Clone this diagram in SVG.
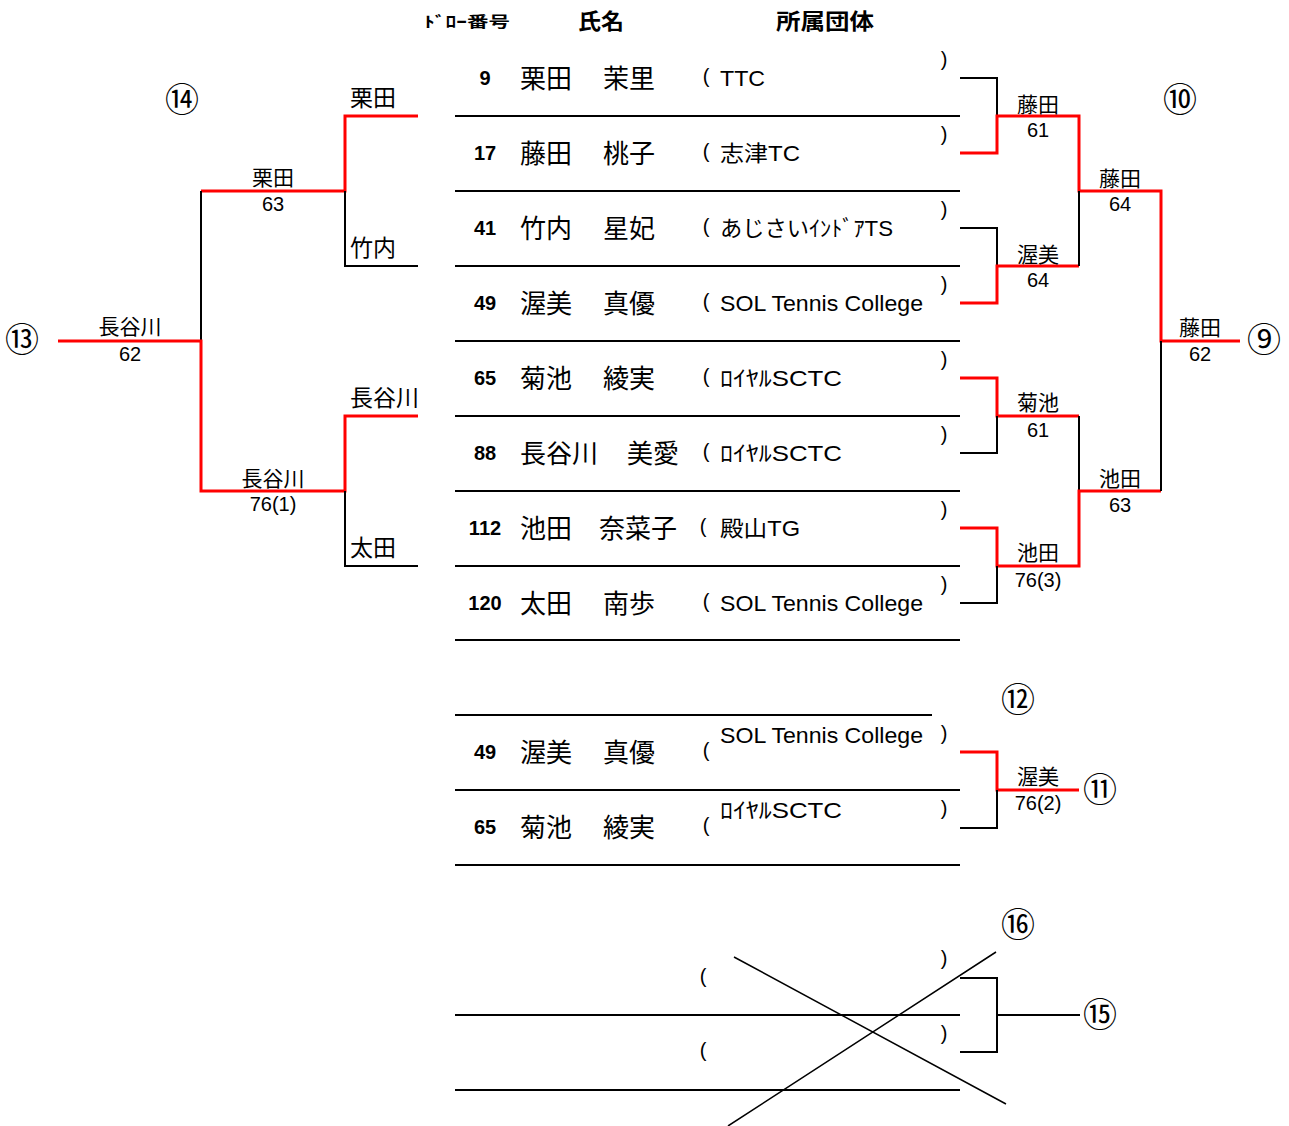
<svg xmlns="http://www.w3.org/2000/svg" width="1289" height="1126" viewBox="0 0 1289 1126">
<style>
text{font-family:"Liberation Sans","Noto Sans CJK JP",sans-serif;fill:#000}
.hd{font-family:"Noto Sans CJK JP",sans-serif;font-weight:bold}
.num{font-size:20px;font-weight:bold;text-anchor:middle}
.name{font-family:"Noto Sans CJK JP",sans-serif;font-size:26px}
.club{font-size:22px}
.par{font-size:20px;text-anchor:middle}
.lbl{font-family:"Noto Sans CJK JP",sans-serif;font-size:21px;text-anchor:middle}
.lbl2{font-family:"Noto Sans CJK JP",sans-serif;font-size:23px}
.sc{font-size:20px;text-anchor:middle}
.circ{font-family:"Noto Sans CJK JP",sans-serif;font-size:34px;text-anchor:middle}
.rl{stroke:#000;stroke-width:2;fill:none}
.bk{stroke:#000;stroke-width:2;fill:none}
.rd{stroke:#f00;stroke-width:3;fill:none}
</style>
<rect width="1289" height="1126" fill="#fff"/>

<g id="header">
<text class="hd" x="424" y="27" font-size="15" textLength="86" lengthAdjust="spacingAndGlyphs">ﾄﾞﾛｰ番号</text>
<text class="hd" x="578" y="29" font-size="22" textLength="46" lengthAdjust="spacingAndGlyphs">氏名</text>
<text class="hd" x="776" y="29" font-size="22" textLength="98" lengthAdjust="spacingAndGlyphs">所属団体</text>
</g>

<g id="rows">
<path class="rl" d="M455 116H960M455 191H960M455 266H960M455 341H960M455 416H960M455 491H960M455 566H960M455 640H960"/>
</g>

<g id="player-1">
<text class="num" x="485" y="85">9</text>
<text class="name" x="520" y="88">栗田</text><text class="name" x="603" y="88">茉里</text>
<text class="par" x="706" y="83">(</text>
<text class="club" x="720" y="86" textLength="45" lengthAdjust="spacingAndGlyphs">TTC</text>
<text class="par" x="944" y="66">)</text>
</g>
<g id="player-2">
<text class="num" x="485" y="160">17</text>
<text class="name" x="520" y="163">藤田</text><text class="name" x="603" y="163">桃子</text>
<text class="par" x="706" y="158">(</text>
<text class="club" x="720" y="161" textLength="80" lengthAdjust="spacingAndGlyphs">志津TC</text>
<text class="par" x="944" y="141">)</text>
</g>
<g id="player-3">
<text class="num" x="485" y="235">41</text>
<text class="name" x="520" y="238">竹内</text><text class="name" x="603" y="238">星妃</text>
<text class="par" x="706" y="233">(</text>
<text class="club" x="720" y="236" textLength="173" lengthAdjust="spacingAndGlyphs">あじさいｲﾝﾄﾞｱTS</text>
<text class="par" x="944" y="216">)</text>
</g>
<g id="player-4">
<text class="num" x="485" y="310">49</text>
<text class="name" x="520" y="313">渥美</text><text class="name" x="603" y="313">真優</text>
<text class="par" x="706" y="308">(</text>
<text class="club" x="720" y="311" textLength="203" lengthAdjust="spacingAndGlyphs">SOL Tennis College</text>
<text class="par" x="944" y="291">)</text>
</g>
<g id="player-5">
<text class="num" x="485" y="385">65</text>
<text class="name" x="520" y="388">菊池</text><text class="name" x="603" y="388">綾実</text>
<text class="par" x="706" y="383">(</text>
<text class="club" x="720" y="386" textLength="122" lengthAdjust="spacingAndGlyphs">ﾛｲﾔﾙSCTC</text>
<text class="par" x="944" y="366">)</text>
</g>
<g id="player-6">
<text class="num" x="485" y="460">88</text>
<text class="name" x="520" y="463">長谷川</text><text class="name" x="627" y="463">美愛</text>
<text class="par" x="706" y="458">(</text>
<text class="club" x="720" y="461" textLength="122" lengthAdjust="spacingAndGlyphs">ﾛｲﾔﾙSCTC</text>
<text class="par" x="944" y="441">)</text>
</g>
<g id="player-7">
<text class="num" x="485" y="535">112</text>
<text class="name" x="520" y="538">池田</text><text class="name" x="599" y="538">奈菜子</text>
<text class="par" x="703" y="533">(</text>
<text class="club" x="720" y="536" textLength="80" lengthAdjust="spacingAndGlyphs">殿山TG</text>
<text class="par" x="944" y="516">)</text>
</g>
<g id="player-8">
<text class="num" x="485" y="610">120</text>
<text class="name" x="520" y="613">太田</text><text class="name" x="603" y="613">南歩</text>
<text class="par" x="706" y="608">(</text>
<text class="club" x="720" y="611" textLength="203" lengthAdjust="spacingAndGlyphs">SOL Tennis College</text>
<text class="par" x="944" y="591">)</text>
</g>

<g id="connectors">
<path class="bk" d="M960 78H997V116"/>
<path class="rd" d="M960 153H997V116H1079V191H1161V341H1240"/>
<path class="bk" d="M960 228H997V266"/>
<path class="rd" d="M960 303H997V266H1079"/>
<path class="bk" d="M1079 266V191"/>
<path class="rd" d="M960 378H997V416H1079"/>
<path class="bk" d="M960 453H997V416"/>
<path class="bk" d="M1079 416V491"/>
<path class="rd" d="M960 528H997V566H1079V491H1161"/>
<path class="bk" d="M960 603H997V566"/>
<path class="bk" d="M1161 491V341"/>
<path class="rd" d="M418 116H345V191H201"/>
<path class="bk" d="M345 191V266H418"/>
<path class="bk" d="M201 191V341"/>
<path class="rd" d="M58 341H201V491H345V416H418"/>
<path class="bk" d="M345 491V566H418"/>
<path class="rd" d="M960 752H997V790H1079"/>
<path class="bk" d="M960 828H997V790"/>
<path class="bk" d="M960 978H997V1052H960M997 1015H1080"/>
</g>

<g id="right-labels">
<text class="lbl" x="1038" y="112">藤田</text><text class="sc" x="1038" y="137">61</text>
<text class="lbl" x="1038" y="262">渥美</text><text class="sc" x="1038" y="287">64</text>
<text class="lbl" x="1120" y="186">藤田</text><text class="sc" x="1120" y="211">64</text>
<text class="lbl" x="1200" y="335">藤田</text><text class="sc" x="1200" y="361">62</text>
<text class="lbl" x="1038" y="410">菊池</text><text class="sc" x="1038" y="437">61</text>
<text class="lbl" x="1038" y="560">池田</text><text class="sc" x="1038" y="587">76(3)</text>
<text class="lbl" x="1120" y="486">池田</text><text class="sc" x="1120" y="512">63</text>
</g>

<g id="left-labels">
<text class="lbl2" x="350" y="106">栗田</text>
<text class="lbl2" x="350" y="256">竹内</text>
<text class="lbl2" x="350" y="406">長谷川</text>
<text class="lbl2" x="350" y="556">太田</text>
<text class="lbl" x="273" y="185">栗田</text><text class="sc" x="273" y="211">63</text>
<text class="lbl" x="130" y="334">長谷川</text><text class="sc" x="130" y="361">62</text>
<text class="lbl" x="273" y="486">長谷川</text><text class="sc" x="273" y="511">76(1)</text>
</g>

<g id="match-numbers">
<text class="circ" x="182" y="112">⑭</text>
<text class="circ" x="22" y="352">⑬</text>
<text class="circ" x="1180" y="112">⑩</text>
<text class="circ" x="1264" y="352">⑨</text>
<text class="circ" x="1018" y="712">⑫</text>
<text class="circ" x="1100" y="802">⑪</text>
<text class="circ" x="1018" y="937">⑯</text>
<text class="circ" x="1100" y="1027">⑮</text>
</g>

<g id="consolation">
<path class="rl" d="M455 715H932M455 790H960M455 865H960"/>
<text class="num" x="485" y="759">49</text>
<text class="name" x="520" y="762">渥美</text><text class="name" x="603" y="762">真優</text>
<text class="par" x="706" y="757">(</text>
<text class="club" x="720" y="743" textLength="203" lengthAdjust="spacingAndGlyphs">SOL Tennis College</text>
<text class="par" x="944" y="740">)</text>
<text class="num" x="485" y="834">65</text>
<text class="name" x="520" y="837">菊池</text><text class="name" x="603" y="837">綾実</text>
<text class="par" x="706" y="832">(</text>
<text class="club" x="720" y="818" textLength="122" lengthAdjust="spacingAndGlyphs">ﾛｲﾔﾙSCTC</text>
<text class="par" x="944" y="815">)</text>
<text class="lbl" x="1038" y="784">渥美</text><text class="sc" x="1038" y="810">76(2)</text>
</g>

<g id="cancelled">
<path class="rl" d="M455 1015H960M455 1090H960"/>
<text class="par" x="703" y="983">(</text>
<text class="par" x="703" y="1057">(</text>
<text class="par" x="944" y="965">)</text>
<text class="par" x="944" y="1040">)</text>
<path stroke="#000" stroke-width="1.5" fill="none" d="M734 957L1006 1104M996 952L728 1126"/>
</g>
</svg>
